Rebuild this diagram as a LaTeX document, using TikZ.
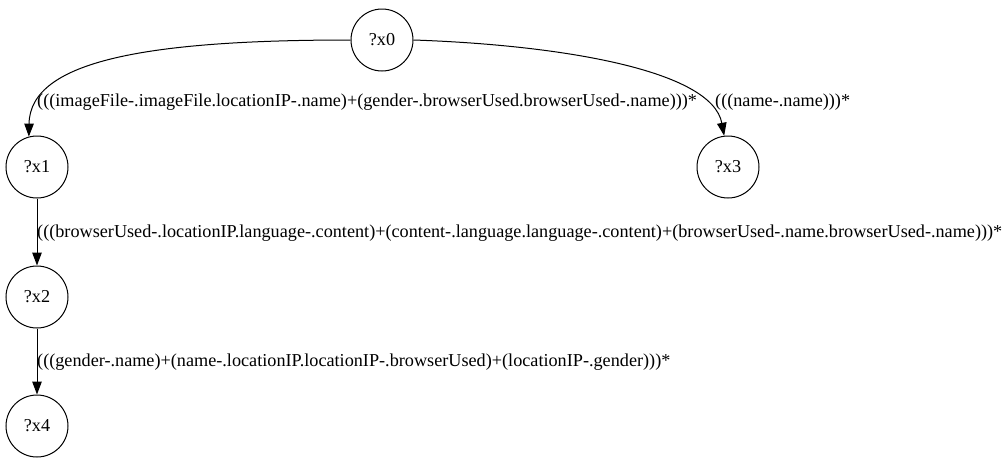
\documentclass[tikz,border=0pt]{standalone}
\usepackage{fontspec}
\setmainfont{Liberation Serif}
\usetikzlibrary{arrows.meta}
\tikzset{
  var/.style={draw, circle, line width=1pt, minimum size=62pt, inner sep=0pt, font=\fontsize{18.2}{21}\selectfont},
  lbl/.style={anchor=west, inner sep=0pt, font=\fontsize{18.2}{21}\selectfont},
  edge/.style={line width=1pt, -{Triangle[length=13pt,width=9.5pt]}}
}
\begin{document}
\begin{tikzpicture}[x=1pt,y=-1pt]
\useasboundingbox (0,0) rectangle (1007,464);
\node[var] (x0) at (382,40) {?x0};
\node[var] (x1) at (37,167) {?x1};
\node[var] (x3) at (728,167) {?x3};
\node[var] (x2) at (37,297) {?x2};
\node[var] (x4) at (37,426) {?x4};
\draw[edge] (x0.west) .. controls (150,40) and (30,60) .. (x1.105);
\draw[edge] (x0.east) .. controls (560,45) and (712,70) .. (x3.97);
\draw[edge] (x1) -- (x2);
\draw[edge] (x2) -- (x4);
\node[lbl] (l1) at (37,102) {(((imageFile-.imageFile.locationIP-.name)+(gender-.browserUsed.browserUsed-.name)))*};
\node[lbl] (l2) at (715,102) {(((name-.name)))*};
\node[lbl] (l3) at (37,233) {(((browserUsed-.locationIP.language-.content)+(content-.language.language-.content)+(browserUsed-.name.browserUsed-.name)))*};
\node[lbl] (l4) at (37,362) {(((gender-.name)+(name-.locationIP.locationIP-.browserUsed)+(locationIP-.gender)))*};
\end{tikzpicture}
\end{document}
